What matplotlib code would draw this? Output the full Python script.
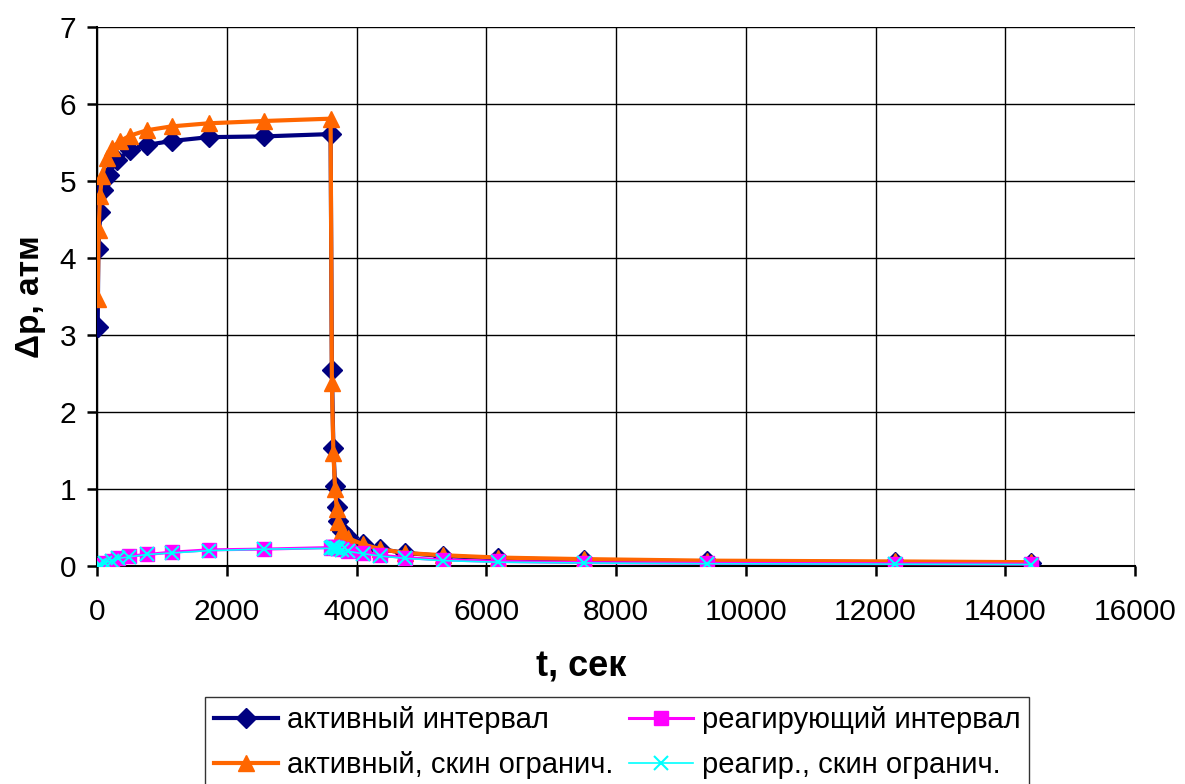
import matplotlib
matplotlib.use('Agg')
import matplotlib.pyplot as plt

plt.rcParams['font.family'] = ['Liberation Sans', 'DejaVu Sans']

# --- data ---
# активный интервал
t_act = [10, 20, 50, 90, 180, 300, 510, 770, 1150, 1720, 2580, 3600,
         3620, 3643, 3669, 3695, 3720, 3772, 3874, 4105, 4363, 4748, 5338,
         6186, 7500, 9400, 12300, 14400]
p_act = [3.10, 4.12, 4.60, 4.89, 5.08, 5.27, 5.40, 5.47, 5.52, 5.57, 5.58, 5.61,
         2.55, 1.53, 1.04, 0.77, 0.58, 0.46, 0.38, 0.28, 0.22, 0.17, 0.13,
         0.10, 0.08, 0.06, 0.05, 0.04]

# активный, скин огранич.
t_skin = [10, 25, 45, 75, 150, 230, 355, 510, 770, 1150, 1720, 2580, 3600,
          3620, 3643, 3669, 3695, 3720, 3772, 3874, 4105, 4363, 4748, 5338,
          6186, 7500, 9400, 12300, 14400]
p_skin = [3.47, 4.37, 4.80, 5.06, 5.30, 5.43, 5.52, 5.59, 5.66, 5.71, 5.75, 5.78, 5.81,
          2.38, 1.47, 1.00, 0.74, 0.57, 0.45, 0.36, 0.28, 0.22, 0.17, 0.14,
          0.11, 0.09, 0.07, 0.06, 0.05]

# реагирующий интервал
t_react = [10, 50, 120, 230, 330, 500, 770, 1150, 1720, 2580, 3600,
           3620, 3643, 3669, 3695, 3720, 3772, 3874, 4105, 4363, 4748, 5338,
           6186, 7500, 9400, 12300, 14400]
p_react = [0.00, 0.02, 0.04, 0.07, 0.10, 0.13, 0.15, 0.18, 0.21, 0.22, 0.24,
           0.25, 0.25, 0.25, 0.24, 0.23, 0.22, 0.20, 0.17, 0.14, 0.11, 0.08,
           0.06, 0.045, 0.035, 0.03, 0.025]

# реагир., скин огранич.
t_rskin = t_react
p_rskin = [0.00, 0.02, 0.04, 0.07, 0.10, 0.12, 0.15, 0.17, 0.20, 0.22, 0.23,
           0.24, 0.25, 0.24, 0.23, 0.22, 0.21, 0.19, 0.16, 0.13, 0.10, 0.07,
           0.05, 0.04, 0.03, 0.025, 0.02]

labels = ['активный интервал', 'активный, скин огранич.',
          'реагирующий интервал', 'реагир., скин огранич.']

fig = plt.figure(figsize=(11.85, 7.84), dpi=100)
ax = fig.add_axes([0.0819, 0.278, 0.8759, 0.6875])

ax.plot(t_act, p_act, color='#000080', lw=3.0, marker='D', ms=10,
        label=labels[0], zorder=3)
ax.plot(t_skin, p_skin, color='#FF6600', lw=3.0, marker='^', ms=11,
        label=labels[1], zorder=4)
ax.plot(t_react, p_react, color='#FF00FF', lw=2.2, marker='s', ms=10,
        label=labels[2], zorder=5)
ax.plot(t_rskin, p_rskin, color='#00FFFF', lw=1.2, marker='x', ms=10, mew=1.5,
        label=labels[3], zorder=6)

ax.set_xlim(0, 16000)
ax.set_ylim(0, 7)
ax.set_xticks(range(0, 16001, 2000))
ax.set_yticks(range(0, 8))
ax.grid(True, color='black', lw=1.0)
ax.set_axisbelow(True)
for s in ['top', 'right']:
    ax.spines[s].set_visible(False)
ax.spines['left'].set_linewidth(1.5)
ax.spines['bottom'].set_linewidth(1.5)
for sp in ax.spines.values():
    sp.set_zorder(2.5)
ax.tick_params(direction='out', length=7, width=1.8, labelsize=21.5, pad=8)
ax.tick_params(axis='x', pad=16)

ax.set_xlabel('t, сек', fontsize=26, fontweight='bold')
ax.xaxis.set_label_coords(0.466, -0.155)
ax.set_ylabel('Δp, атм', fontsize=24, fontweight='bold', labelpad=10)

leg = fig.legend(loc='upper left', bbox_to_anchor=(0.173, 0.111), ncol=2,
                 fontsize=21, frameon=True, fancybox=False, edgecolor='black',
                 handlelength=2.2, columnspacing=0.55, borderaxespad=0,
                 handletextpad=0.3, labelspacing=0.6, borderpad=0.3)
leg.get_frame().set_linewidth(1.0)

fig.savefig('out.png', dpi=100)
